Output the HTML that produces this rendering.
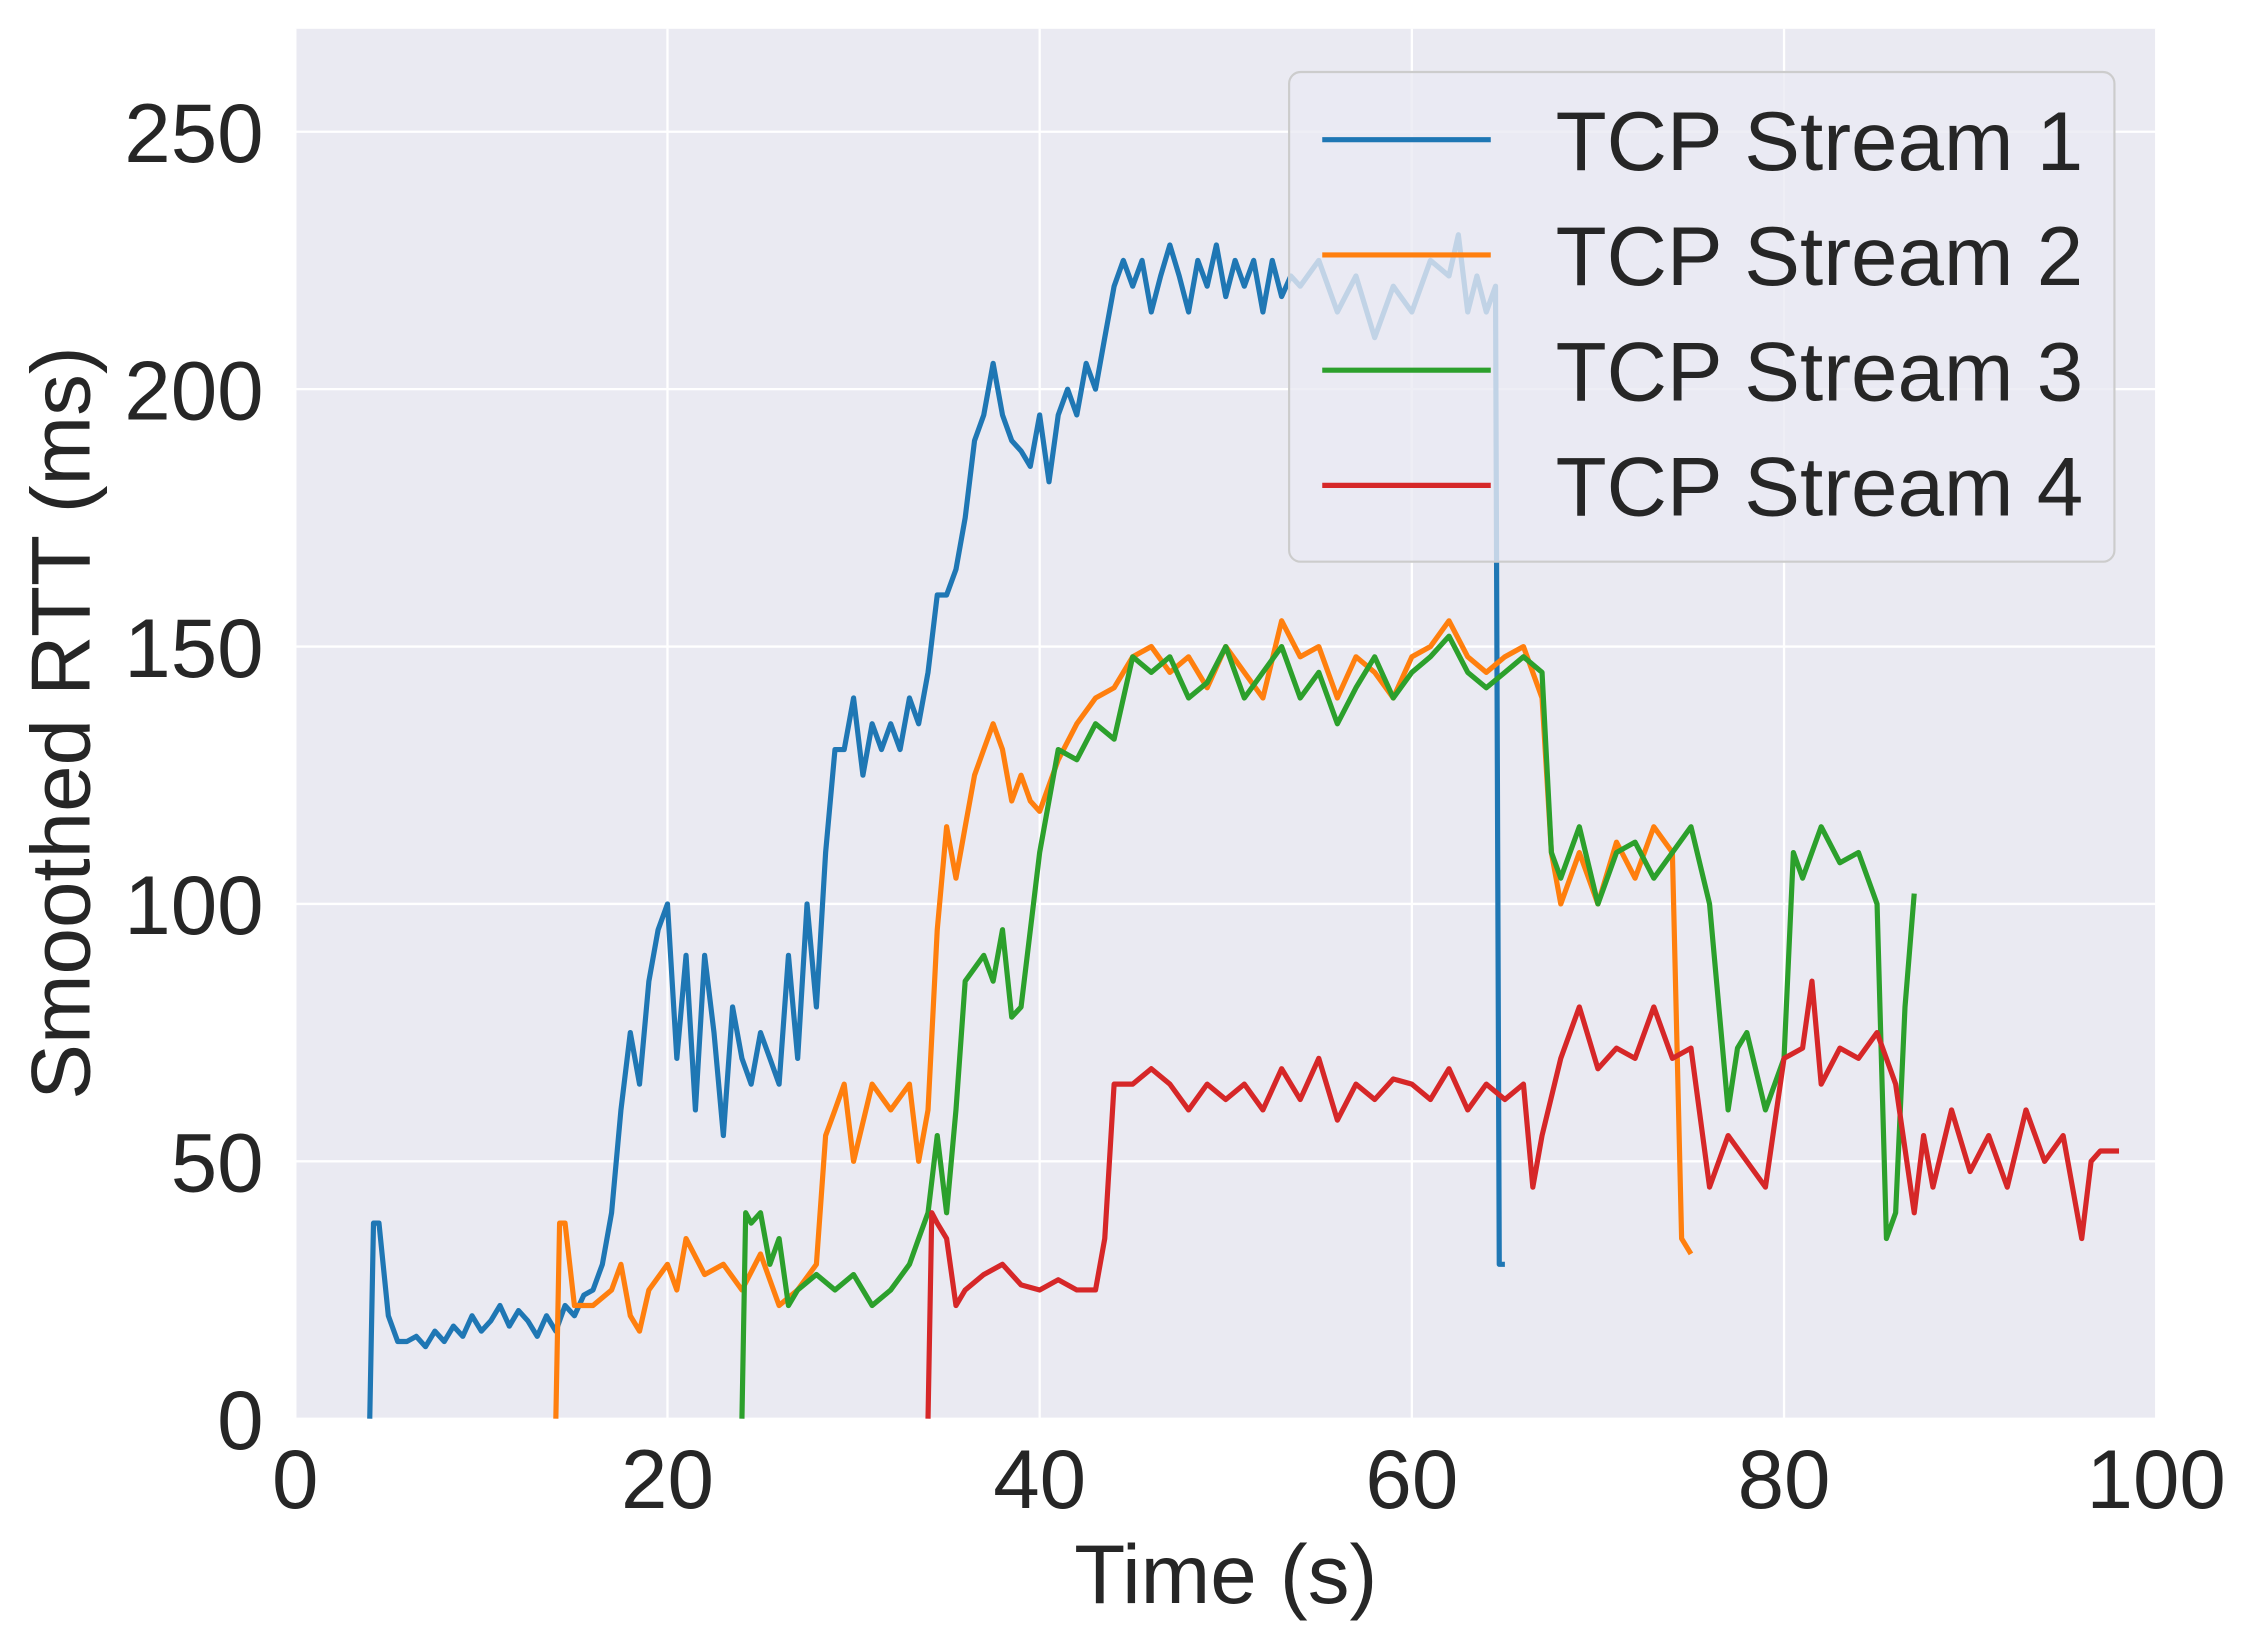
<!DOCTYPE html>
<html><head><meta charset="utf-8"><style>
html,body{margin:0;padding:0;background:#fff;}
svg{display:block;font-family:"Liberation Sans",sans-serif;}
</style></head><body>
<svg id="chart" width="2252" height="1644" viewBox="0 0 1563.5 1141.4" xmlns="http://www.w3.org/2000/svg">
<rect x="205" y="20" width="1292" height="965" fill="#eaeaf2"/>
<g id="grid"></g>
<g id="series"></g>
<g id="ticks"></g>
<text x="851" y="1113" font-size="58" fill="#262626" text-anchor="middle">Time (s)</text>
<text transform="translate(62,502) rotate(-90)" font-size="58" fill="#262626" text-anchor="middle">Smoothed RTT (ms)</text>
<g id="legend">
<rect x="895" y="50" width="573" height="340" rx="8" fill="#eaeaf2" fill-opacity="0.8" stroke="#cccccc" stroke-width="1.5"/>
</g>
</svg>
<script>
const names=["TCP Stream 1","TCP Stream 2","TCP Stream 3","TCP Stream 4"];
const colors=["#1f77b4","#ff7f0e","#2ca02c","#d62728"];
const xTicks=[0,20,40,60,80,100];
const yTicks=[0,50,100,150,200,250];
const t1=[4,4.2,4.5,5,5.5,6,6.5,7,7.5,8,8.5,9,9.5,10,10.5,11,11.5,12,12.5,13,13.5,14,14.5,15,15.5,16,16.5,17,17.5,18,18.5,19,19.5,20,20.5,21,21.5,22,22.5,23,23.5,24,24.5,25,25.5,26,26.5,27,27.5,28,28.5,29,29.5,30,30.5,31,31.5,32,32.5,33,33.5,34,34.5,35,35.5,36,36.5,37,37.5,38,38.5,39,39.5,40,40.5,41,41.5,42,42.5,43,43.5,44,44.5,45,45.5,46,46.5,47,47.5,48,48.5,49,49.5,50,50.5,51,51.5,52,52.5,53,53.5,54,55,56,57,58,59,60,61,62,62.5,63,63.5,64,64.5,64.7,65];
const v1=[0,38,38,20,15,15,16,14,17,15,18,16,20,17,19,22,18,21,19,16,20,17,22,20,24,25,30,40,60,75,65,85,95,100,70,90,60,90,75,55,80,70,65,75,70,65,90,70,100,80,110,130,130,140,125,135,130,135,130,140,135,145,160,160,165,175,190,195,205,195,190,188,185,195,182,195,200,195,205,200,210,220,225,220,225,215,222,228,222,215,225,220,228,218,225,220,225,215,225,218,222,220,225,215,222,210,220,215,225,222,230,215,222,215,220,30,30];
const t2=[14,14.2,14.5,15,16,17,17.5,18,18.5,19,20,20.5,21,22,23,24,25,26,27,28,28.5,29,29.5,30,31,32,33,33.5,34,34.5,35,35.5,36,36.5,37,37.5,38,38.5,39,39.5,40,41,42,43,44,45,46,47,48,49,50,51,52,53,54,55,56,57,58,59,60,61,62,63,64,65,66,67,67.5,68,69,70,71,72,73,74,74.5,75];
const v2=[0,38,38,22,22,25,30,20,17,25,30,25,35,28,30,25,32,22,25,30,55,60,65,50,65,60,65,50,60,95,115,105,115,125,130,135,130,120,125,120,118,128,135,140,142,148,150,145,148,142,150,145,140,155,148,150,140,148,145,140,148,150,155,148,145,148,150,140,110,100,110,100,112,105,115,110,35,32];
const t3=[24,24.2,24.5,25,25.5,26,26.5,27,28,29,30,31,32,33,33.5,34,34.5,35,35.5,36,37,37.5,38,38.5,39,40,41,42,43,44,45,46,47,48,49,50,51,52,53,54,55,56,57,58,59,60,61,62,63,64,65,66,67,67.5,68,69,70,71,72,73,74,75,76,77,77.5,78,79,80,80.5,81,82,83,84,85,85.5,86,86.5,87];
const v3=[0,40,38,40,30,35,22,25,28,25,28,22,25,30,35,40,55,40,60,85,90,85,95,78,80,110,130,128,135,132,148,145,148,140,143,150,140,145,150,140,145,135,142,148,140,145,148,152,145,142,145,148,145,110,105,115,100,110,112,105,110,115,100,60,72,75,60,70,110,105,115,108,110,100,35,40,80,102];
const t4=[34,34.2,34.5,35,35.5,36,37,38,39,40,41,42,43,43.5,44,45,46,47,48,49,50,51,52,53,54,55,56,57,58,59,60,61,62,63,64,65,66,66.5,67,68,69,70,71,72,73,74,75,76,77,78,79,80,81,81.5,82,83,84,85,86,87,87.5,88,89,90,91,92,93,94,95,96,96.5,97,98];
const v4=[0,40,38,35,22,25,28,30,26,25,27,25,25,35,65,65,68,65,60,65,62,65,60,68,62,70,58,65,62,66,65,62,68,60,65,62,65,45,55,70,80,68,72,70,80,70,72,45,55,50,45,70,72,85,65,72,70,75,65,40,55,45,60,48,55,45,60,50,55,35,50,52,52];
const times=[t1,t2,t3,t4], vals=[v1,v2,v3,v4];
const NS="http://www.w3.org/2000/svg";
const X0=205,X1=1497,Y0=985,YTOP=20,YMAX=270;
function xs(t){return X0+(t/100)*(X1-X0);}
function ys(v){return Y0-(v/YMAX)*(Y0-YTOP);}
const grid=document.getElementById('grid'),ticks=document.getElementById('ticks'),ser=document.getElementById('series'),leg=document.getElementById('legend');
xTicks.forEach(t=>{
  const l=document.createElementNS(NS,'line');
  l.setAttribute('x1',xs(t));l.setAttribute('x2',xs(t));l.setAttribute('y1',YTOP);l.setAttribute('y2',Y0);
  l.setAttribute('stroke','#fff');l.setAttribute('stroke-width','1.6');
  
  
  grid.appendChild(l);
  const tx=document.createElementNS(NS,'text');
  tx.setAttribute('x',xs(t));tx.setAttribute('y',1047);tx.setAttribute('font-size','58');tx.setAttribute('fill','#262626');tx.setAttribute('text-anchor','middle');
  tx.textContent=t;
  
  
  ticks.appendChild(tx);
});
yTicks.forEach(v=>{
  const l=document.createElementNS(NS,'line');
  l.setAttribute('x1',X0);l.setAttribute('x2',X1);l.setAttribute('y1',ys(v));l.setAttribute('y2',ys(v));
  l.setAttribute('stroke','#fff');l.setAttribute('stroke-width','1.6');
  
  
  grid.appendChild(l);
  const tx=document.createElementNS(NS,'text');
  tx.setAttribute('x',183);tx.setAttribute('y',ys(v)+21);tx.setAttribute('font-size','58');tx.setAttribute('fill','#262626');tx.setAttribute('text-anchor','end');
  tx.textContent=v;
  
  
  ticks.appendChild(tx);
});
for(let i=0;i<4;i++){
  const p=document.createElementNS(NS,'polyline');
  p.setAttribute('points',times[i].map((t,j)=>xs(t).toFixed(1)+','+ys(vals[i][j]).toFixed(1)).join(' '));
  p.setAttribute('fill','none');p.setAttribute('stroke',colors[i]);p.setAttribute('stroke-width','3.6');p.setAttribute('stroke-linejoin','round');
  
  
  ser.appendChild(p);
  const y=97+i*80;
  const ll=document.createElementNS(NS,'line');
  ll.setAttribute('x1',918);ll.setAttribute('x2',1035);ll.setAttribute('y1',y);ll.setAttribute('y2',y);
  ll.setAttribute('stroke',colors[i]);ll.setAttribute('stroke-width','3.6');
  
  
  leg.appendChild(ll);
  const lt=document.createElementNS(NS,'text');
  lt.setAttribute('x',1080);lt.setAttribute('y',y+21);lt.setAttribute('font-size','58');lt.setAttribute('fill','#262626');
  lt.textContent=names[i];
  
  
  leg.appendChild(lt);
}
</script>
</body></html>
